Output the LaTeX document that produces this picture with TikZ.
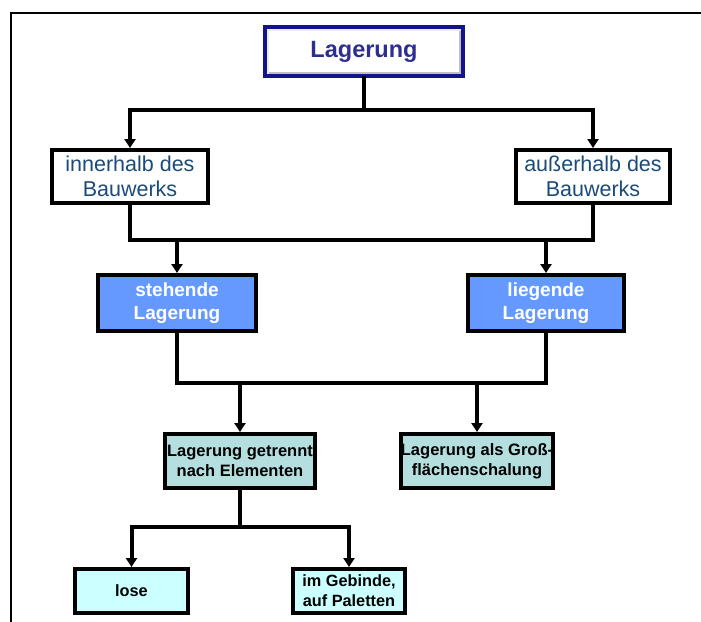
\documentclass[tikz,border=0pt]{standalone}
\usepackage{fontspec}
\setmainfont{Liberation Sans}
\usetikzlibrary{arrows.meta}
\definecolor{titleblue}{HTML}{2E2E8F}
\definecolor{titleframe}{HTML}{14148A}
\definecolor{placetext}{HTML}{1C4B7A}
\definecolor{midblue}{HTML}{6699FF}
\definecolor{paleteal}{HTML}{B5DFDF}
\definecolor{palecyan}{HTML}{CCFFFF}
\tikzset{
  box/.style={draw=black, line width=4pt, rectangle, inner sep=0pt, align=center},
  placebox/.style={box, fill=white, text=placetext,
    font=\fontsize{21.5}{25}\selectfont},
  kindbox/.style={box, fill=midblue, text=white,
    font=\fontsize{19}{23}\selectfont\bfseries},
  waybox/.style={box, fill=paleteal, text=black,
    font=\fontsize{16.5}{20}\selectfont\bfseries},
  leafbox/.style={box, fill=palecyan, text=black,
    font=\fontsize{16.3}{20}\selectfont\bfseries},
  wire/.style={line width=4pt, line cap=rect},
  feed/.style={line width=4pt, -{Triangle[width=11pt,length=9pt]}},
}
\begin{document}
\begin{tikzpicture}[x=1pt,y=-1pt]
\useasboundingbox (0,0) rectangle (701,621);
\fill[white] (0,0) rectangle (701,621);

% outer frame (left and top edges)
\draw[line width=2pt] (10.5,630) -- (10.5,12.5) -- (710,12.5);

% title box with bevelled blue frame
\node[draw=titleframe, line width=4pt, fill=white, minimum width=198pt,
      minimum height=49pt, inner sep=0pt, text=titleblue,
      font=\fontsize{23.5}{25}\selectfont\bfseries] (top) at (364,51.5) {\raisebox{-3pt}{Lagerung}};
\draw[gray!50, line width=3.5pt] ([shift={(4,-4)}]top.south west) -- ([shift={(-4,-4)}]top.south east)
  -- ([shift={(-4,4)}]top.north east);
\draw[gray!15, line width=3.5pt] ([shift={(4,-4)}]top.south west) -- ([shift={(4,4)}]top.north west)
  -- ([shift={(-4,4)}]top.north east);
\node[draw=titleframe, line width=4pt, minimum width=198pt,
      minimum height=49pt, inner sep=0pt] at (top.center) {};

% level 1
\node[placebox, minimum width=156pt, minimum height=53pt] (inner) at (130,176.5) {innerhalb des\\Bauwerks};
\node[placebox, minimum width=154pt, minimum height=53pt] (outer) at (593,176.5) {außerhalb des\\Bauwerks};

% level 2
\node[kindbox, minimum width=158pt, minimum height=56pt] (stand) at (177,303) {stehende\\Lagerung};
\node[kindbox, minimum width=156pt, minimum height=56pt] (lie) at (546,303) {liegende\\Lagerung};

% level 3
\node[waybox, minimum width=150pt, minimum height=54pt] (sep) at (240,461) {Lagerung getrennt\\nach Elementen};
\node[waybox, minimum width=148pt, minimum height=54pt] (large) at (477,461) {Lagerung als Groß-\\flächenschalung};

% level 4
\node[leafbox, minimum width=113pt, minimum height=44pt] (loose) at (131.5,591) {lose};
\node[leafbox, minimum width=112pt, minimum height=44pt] (pack) at (349,591) {im Gebinde,\\auf Paletten};

% junction points
\coordinate (j1) at (364,110);
\coordinate (j1l) at (130,110);
\coordinate (j1r) at (593,110);
\coordinate (j2l) at (130,240);
\coordinate (j2r) at (593,240);
\coordinate (j2a) at (177,240);
\coordinate (j2b) at (546,240);
\coordinate (j3l) at (177,383);
\coordinate (j3r) at (546,383);
\coordinate (j3a) at (240,383);
\coordinate (j3b) at (477,383);
\coordinate (j4) at (240,527);
\coordinate (j4l) at (131.5,527);
\coordinate (j4r) at (349,527);

% connectors
\draw[wire] (top.south) -- (j1);
\draw[wire] (j1l) -- (j1r);
\draw[feed] (j1l) -- (inner.north);
\draw[feed] (j1r) -- (outer.north);

\draw[wire] (inner.south) -- (j2l) -- (j2r) -- (outer.south);
\draw[feed] (j2a) -- (stand.north);
\draw[feed] (j2b) -- (lie.north);

\draw[wire] (stand.south) -- (j3l) -- (j3r) -- (lie.south);
\draw[feed] (j3a) -- (sep.north);
\draw[feed] (j3b) -- (large.north);

\draw[wire] (sep.south) -- (j4);
\draw[wire] (j4l) -- (j4r);
\draw[feed] (j4l) -- (loose.north);
\draw[feed] (j4r) -- (pack.north);
\end{tikzpicture}
\end{document}
